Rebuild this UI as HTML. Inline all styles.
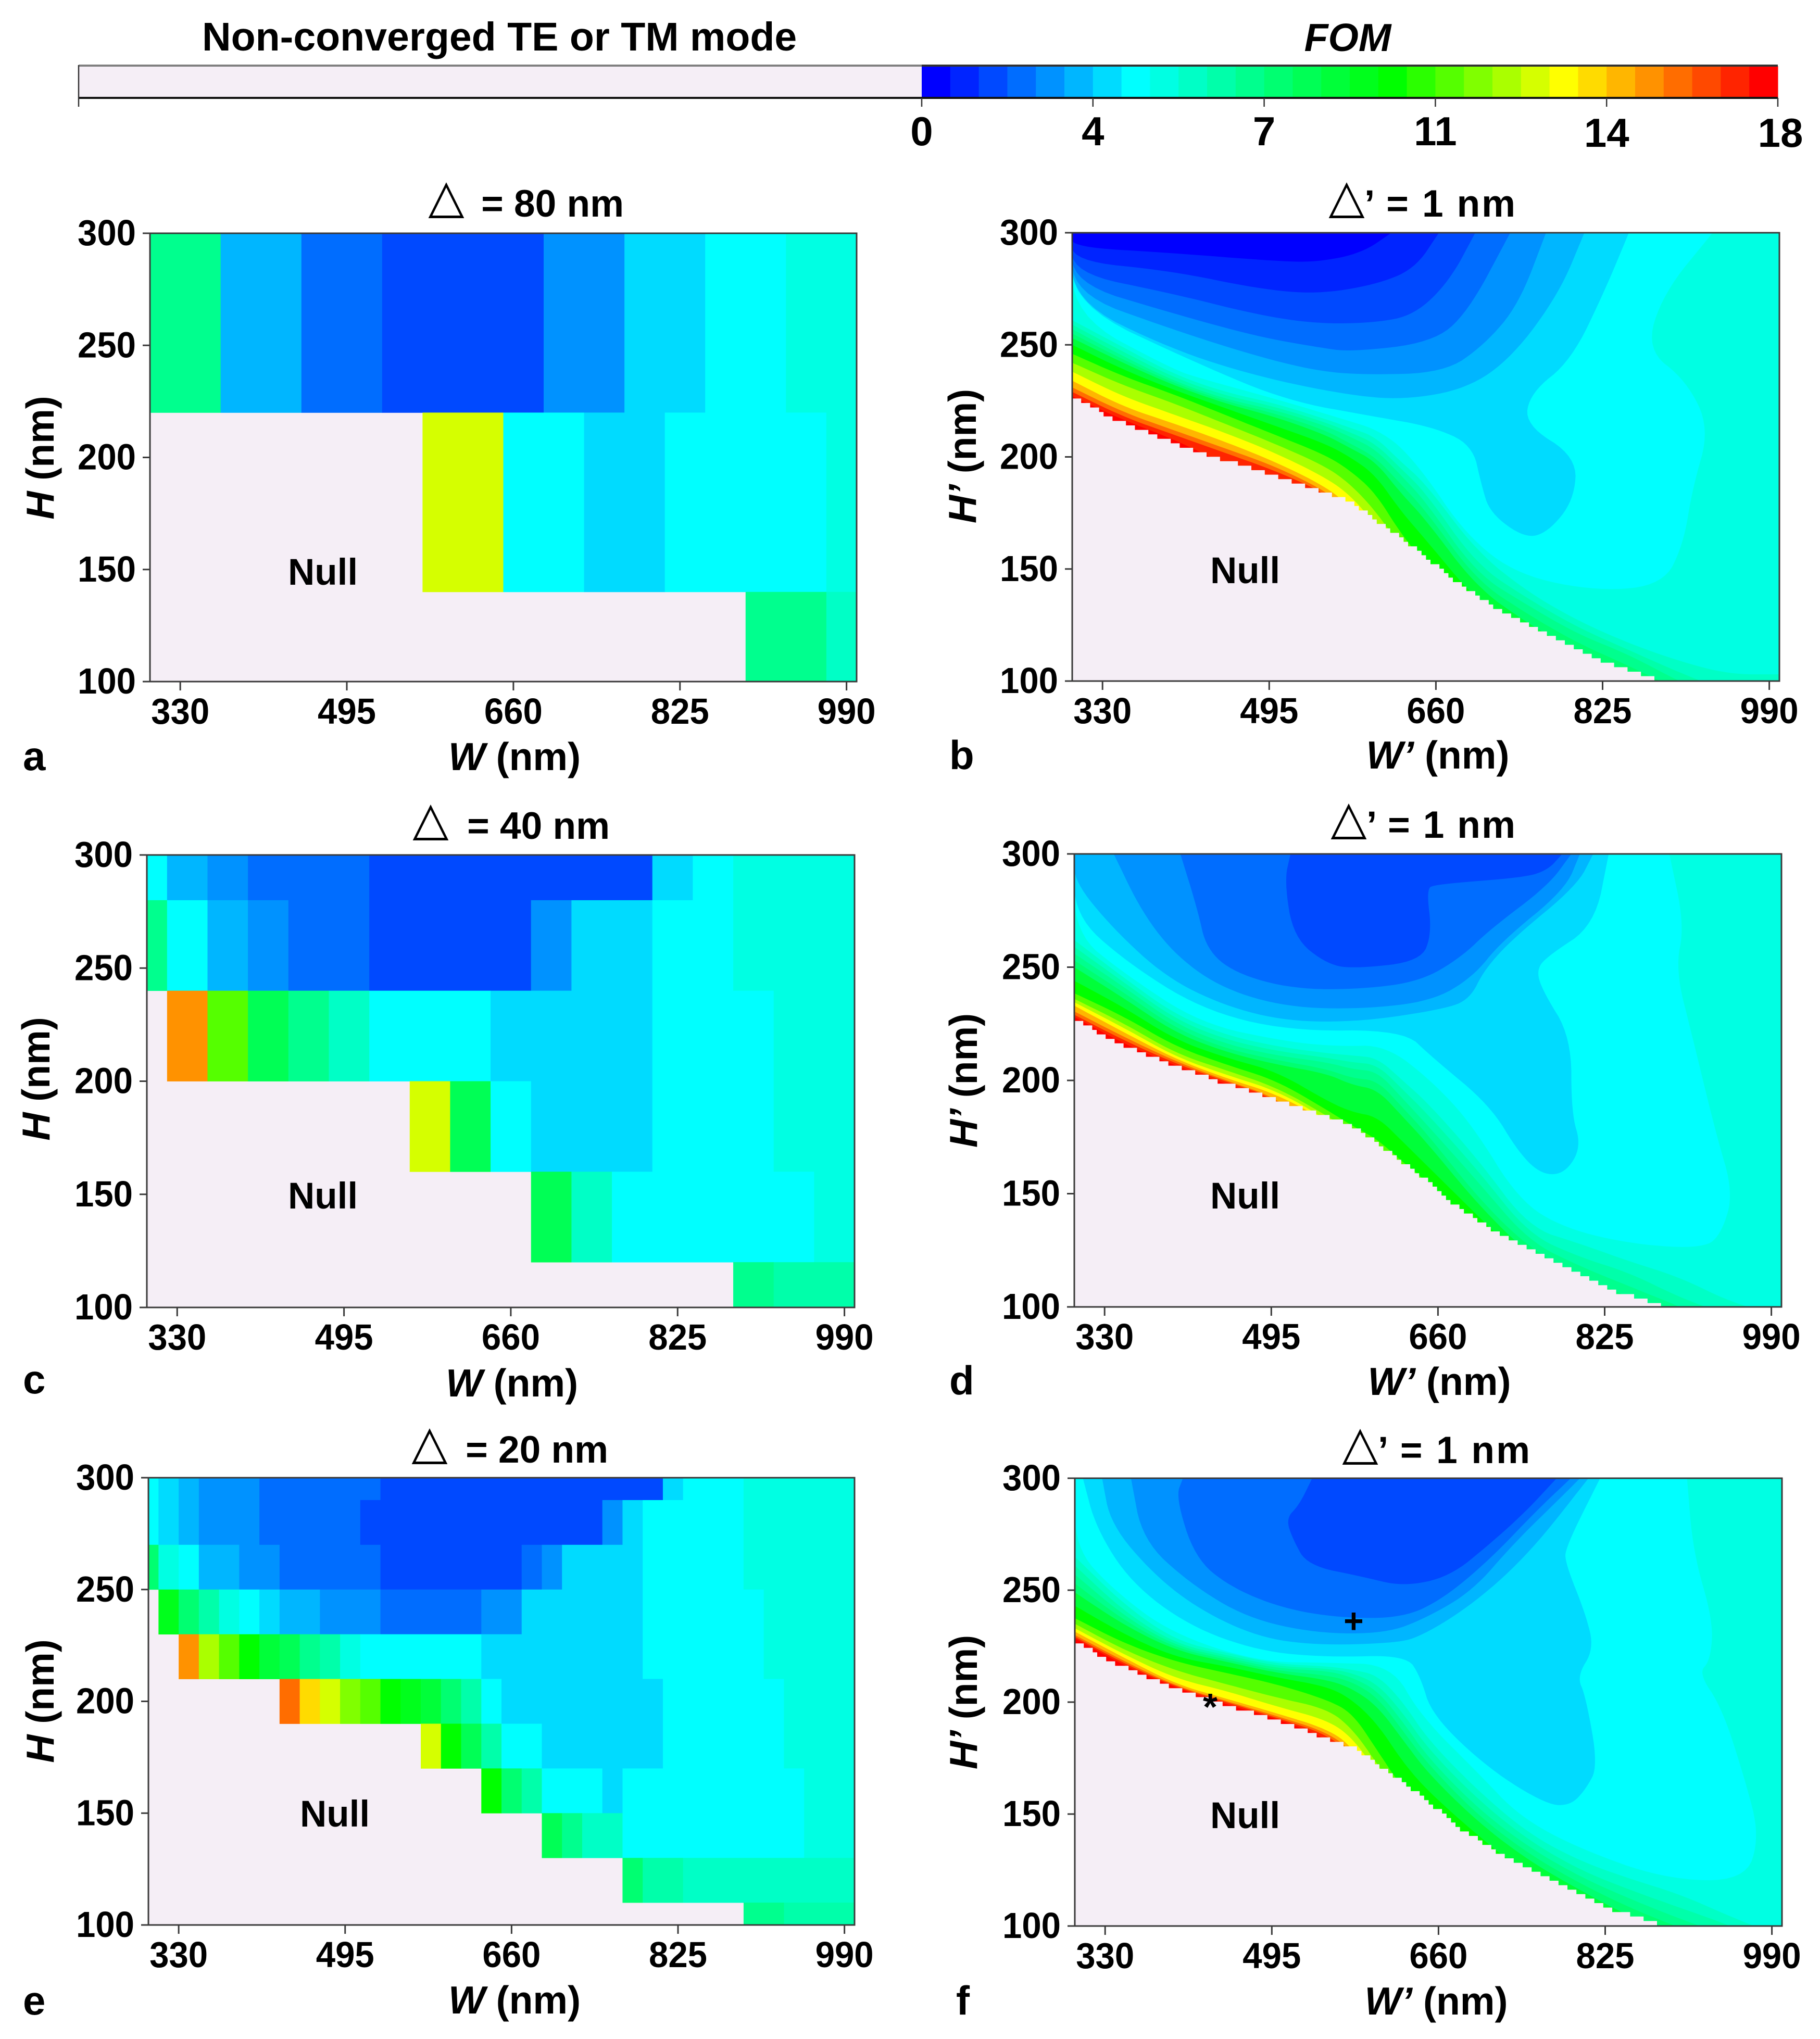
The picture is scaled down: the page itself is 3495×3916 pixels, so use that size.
<!DOCTYPE html>
<html lang="en">
<head>
<meta charset="utf-8">
<title>FOM maps for W/H parameter sweeps</title>
<style>
html,body{margin:0;padding:0;background:#fff;}
svg{display:block;}
text{font-family:"Liberation Sans",sans-serif;font-weight:700;fill:#000;}
.tri{font-family:"DejaVu Sans",sans-serif;font-weight:400;font-size:90px;text-anchor:middle;}
.ttl{font-size:73px;text-anchor:end;}
.ax{font-size:75px;text-anchor:middle;}
.let{font-size:78px;}
.nul{font-size:71px;}
.cbt{font-size:78px;text-anchor:middle;}
</style>
</head>
<body>
<svg id="figure" xmlns="http://www.w3.org/2000/svg" width="3495" height="3916" viewBox="0 0 3495 3916">
<rect x="0" y="0" width="3495" height="3916" fill="#ffffff"/>
<g id="legend">
  <text x="388" y="97" font-size="77">Non-converged TE or TM mode</text>
  <text x="2588" y="98" font-size="75" font-style="italic" text-anchor="middle">FOM</text>
</g>

<g>
  <g id="panel-a-plot"></g>
  <g id="panel-a-axes"></g>
  <text class="tri" x="857" y="408">△</text>
  <text class="ttl" x="1198" y="416">= 80 nm</text>
  <text class="nul" x="553" y="1123">Null</text>
  <text class="ax" x="988" y="1479"><tspan font-style="italic">W</tspan> (nm)</text>
  <text class="ax" transform="translate(103 879) rotate(-90)"><tspan font-style="italic">H</tspan> (nm)</text>
  <text class="let" x="44" y="1479">a</text>
</g>

<g>
  <g id="panel-b-plot"></g>
  <g id="panel-b-axes"></g>
  <text class="tri" x="2586" y="408">△</text>
  <text class="ttl" x="2910" y="416" textLength="290" lengthAdjust="spacing">’ = 1 nm</text>
  <text class="nul" x="2324" y="1120">Null</text>
  <text class="ax" x="2761" y="1476"><tspan font-style="italic">W’</tspan> (nm)</text>
  <text class="ax" transform="translate(1874 876) rotate(-90)"><tspan font-style="italic">H’</tspan> (nm)</text>
  <text class="let" x="1823" y="1477">b</text>
</g>

<g>
  <g id="panel-c-plot"></g>
  <g id="panel-c-axes"></g>
  <text class="tri" x="827" y="1603">△</text>
  <text class="ttl" x="1171" y="1611">= 40 nm</text>
  <text class="nul" x="553" y="2321">Null</text>
  <text class="ax" x="983" y="2682"><tspan font-style="italic">W</tspan> (nm)</text>
  <text class="ax" transform="translate(95 2072) rotate(-90)"><tspan font-style="italic">H</tspan> (nm)</text>
  <text class="let" x="44" y="2676">c</text>
</g>

<g>
  <g id="panel-d-plot"></g>
  <g id="panel-d-axes"></g>
  <text class="tri" x="2590" y="1601">△</text>
  <text class="ttl" x="2910" y="1609" textLength="286" lengthAdjust="spacing">’ = 1 nm</text>
  <text class="nul" x="2324" y="2321">Null</text>
  <text class="ax" x="2764" y="2679"><tspan font-style="italic">W’</tspan> (nm)</text>
  <text class="ax" transform="translate(1876 2075) rotate(-90)"><tspan font-style="italic">H’</tspan> (nm)</text>
  <text class="let" x="1823" y="2678">d</text>
</g>

<g>
  <g id="panel-e-plot"></g>
  <g id="panel-e-axes"></g>
  <text class="tri" x="825" y="2801">△</text>
  <text class="ttl" x="1168" y="2809">= 20 nm</text>
  <text class="nul" x="576" y="3508">Null</text>
  <text class="ax" x="988" y="3867"><tspan font-style="italic">W</tspan> (nm)</text>
  <text class="ax" transform="translate(103 3267) rotate(-90)"><tspan font-style="italic">H</tspan> (nm)</text>
  <text class="let" x="44" y="3869">e</text>
</g>

<g>
  <g id="panel-f-plot"></g>
  <g id="panel-f-axes"></g>
  <text class="tri" x="2612" y="2802">△</text>
  <text class="ttl" x="2938" y="2810" textLength="292" lengthAdjust="spacing">’ = 1 nm</text>
  <text class="nul" x="2324" y="3511">Null</text>
  <text class="ax" x="2758" y="3869"><tspan font-style="italic">W’</tspan> (nm)</text>
  <text class="ax" transform="translate(1876 3269) rotate(-90)"><tspan font-style="italic">H’</tspan> (nm)</text>
  <text class="let" x="1836" y="3869">f</text>
</g>
</svg>

<script>
// ---------- shared scale values ----------
const fomMax = 18;
const levelCount = 30;
const anchorLevels = [0, 7, 16, 22, 29];
const anchorRed = [0, 0, 0, 255, 255];
const anchorGreen = [0, 255, 255, 255, 0];
const anchorBlue = [255, 255, 0, 0, 0];
const nullColor = '#f5eef6';

const colorbarTickValues = [0, 3.6, 7.2, 10.8, 14.4, 18];
const colorbarTickLabels = ['0', '4', '7', '11', '14', '18'];
const xTickValues = [330, 495, 660, 825, 990];
const yTickValues = [100, 150, 200, 250, 300];

// ---------- panel a: Delta = 80 nm ----------
const panelAHEdges = [300, 220, 140, 100];
const panelAWEdges = [
  [300, 370, 450, 530, 690, 770, 850, 930, 1000],
  [300, 570, 650, 730, 810, 970, 1000],
  [300, 890, 970, 1000]
];
const panelAFom = [
  [6.9, 3.3, 2.1, 1.5, 2.7, 3.9, 4.5, 5.1],
  [null, 12.9, 4.5, 3.9, 4.5, 5.1],
  [null, 6.9, 5.7]
];

// ---------- panel c: Delta = 40 nm ----------
const panelCHEdges = [300, 280, 240, 200, 160, 120, 100];
const panelCWEdges = [
  [300, 320, 360, 400, 520, 800, 840, 880, 1000],
  [300, 320, 360, 400, 440, 520, 680, 720, 800, 880, 1000],
  [300, 320, 360, 400, 440, 480, 520, 640, 800, 920, 1000],
  [300, 560, 600, 640, 680, 800, 920, 1000],
  [300, 680, 720, 760, 960, 1000],
  [300, 880, 920, 1000]
];
const panelCFom = [
  [4.5, 3.3, 2.7, 2.1, 1.5, 3.9, 4.5, 5.1],
  [6.9, 4.5, 3.3, 2.7, 2.1, 1.5, 2.7, 3.9, 4.5, 5.1],
  [null, 15.3, 11.1, 8.1, 6.9, 5.7, 4.5, 3.9, 4.5, 5.1],
  [null, 12.9, 8.1, 4.5, 3.9, 4.5, 5.1],
  [null, 8.1, 5.7, 4.5, 5.1],
  [null, 6.9, 6.3]
];

// ---------- panel e: Delta = 20 nm ----------
const panelEHEdges = [300, 290, 270, 250, 230, 210, 190, 170, 150, 130, 110, 100];
const panelEWEdges = [
  [300, 310, 330, 350, 410, 530, 810, 830, 890, 1000],
  [300, 310, 330, 350, 410, 510, 750, 770, 790, 890, 1000],
  [300, 310, 330, 350, 390, 430, 530, 670, 690, 710, 790, 890, 1000],
  [300, 310, 330, 350, 370, 390, 410, 430, 470, 530, 630, 650, 670, 790, 910, 1000],
  [300, 330, 350, 370, 390, 410, 430, 450, 470, 490, 510, 630, 790, 910, 1000],
  [300, 430, 450, 470, 490, 510, 530, 550, 570, 590, 610, 630, 650, 810, 930, 1000],
  [300, 570, 590, 610, 630, 650, 690, 810, 930, 1000],
  [300, 630, 650, 670, 690, 750, 770, 950, 1000],
  [300, 690, 710, 730, 770, 950, 1000],
  [300, 770, 790, 830, 1000],
  [300, 890, 930, 1000]
];
const panelEFom = [
  [4.5, 3.9, 3.3, 2.7, 2.1, 1.5, 3.9, 4.5, 5.1],
  [4.5, 3.9, 3.3, 2.7, 2.1, 1.5, 2.7, 3.9, 4.5, 5.1],
  [7.5, 5.1, 4.5, 3.3, 2.7, 2.1, 1.5, 2.1, 2.7, 3.9, 4.5, 5.1],
  [null, 9.3, 7.5, 6.3, 5.1, 4.5, 3.9, 3.3, 2.7, 2.1, 2.7, 2.7, 3.9, 4.5, 5.1],
  [null, 15.3, 12.3, 11.1, 9.9, 8.7, 8.1, 6.9, 6.3, 5.1, 4.5, 3.9, 4.5, 5.1],
  [null, 15.9, 14.1, 12.9, 11.7, 11.1, 9.9, 9.3, 8.7, 7.5, 6.3, 4.5, 3.9, 4.5, 5.1],
  [null, 12.9, 9.9, 8.1, 6.3, 4.5, 3.9, 4.5, 5.1],
  [null, 9.9, 7.5, 6.3, 4.5, 3.9, 4.5, 5.1],
  [null, 8.1, 6.9, 5.7, 4.5, 5.1],
  [null, 7.5, 6.3, 5.7],
  [null, 6.9, 6.3]
];

// ---------- contour panels: shared ----------
const contourStationsW = [300, 350, 400, 450, 500, 550, 575, 600, 625, 650, 700, 750, 800, 850, 900, 950, 1000];
const hotLevels = [28, 26, 24, 22, 20, 18, 16, 14, 12, 11, 10, 9, 8];
const coolLevelsB = [7, 6, 5, 4, 3, 2, 1, 0];
const coolLevelsDF = [7, 6, 5, 4, 3, 2];
const nullBoundaryW = [300, 330, 350, 385, 400, 442, 494, 540, 574, 620, 650, 672, 712, 770, 826, 884];
const nullBoundaryH = [227, 219, 215, 208.5, 206, 199.5, 192.5, 185, 180, 165, 155, 146, 134, 120.5, 108, 100];

// ---------- panel b: H of each FOM-level contour at contourStationsW ----------
const panelBHot = [
  [227, 216.5, 208, 197, 190, 180, 170, 150, 130, 100, 90, 90, 90, 90, 90, 90, 90],
  [229, 218, 210, 202, 194, 184, 174, 155, 135, 110, 90, 90, 90, 90, 90, 90, 90],
  [231, 220, 212, 204, 196, 185, 176, 160, 140, 120, 90, 90, 90, 90, 90, 90, 90],
  [234, 222.5, 215, 207, 198, 187, 178, 165, 145, 125, 90, 90, 90, 90, 90, 90, 90],
  [238, 227, 219, 211, 202, 191, 183, 170, 150, 130, 100, 90, 90, 90, 90, 90, 90],
  [242, 232, 224, 215, 206, 196, 188, 176, 160, 140, 110, 90, 90, 90, 90, 90, 90],
  [246, 236, 228, 219, 210, 201, 194, 184, 166, 152, 125, 105, 90, 90, 90, 90, 90],
  [250, 239, 230, 222, 214, 206, 200, 192, 176, 163, 136, 120, 105, 90, 90, 90, 90],
  [253, 242, 232, 224, 218, 210, 204, 198, 184, 172, 142, 126, 113, 103, 90, 90, 90],
  [255, 243.5, 233, 225, 219.5, 212, 206, 200, 188, 176, 145, 130, 117, 107, 96, 90, 90],
  [257, 245, 234, 226, 221, 214, 209, 203.5, 192, 180, 148, 134, 121, 112, 100, 90, 90],
  [259, 247, 235.5, 227.5, 222.5, 215.5, 211, 206, 195, 184, 152, 137, 124, 114, 104, 95, 95],
  [261, 249, 237, 229, 224, 217, 213, 209, 198, 188, 158, 140, 127, 117, 109, 103, 103]
];
const panelBLevel7 = [[300,300],[300,263],[400,239],[427,235],[500,226],[560,218],[610,211],[645,195],[690,165],[742,147],[822,140],[885,143],[905,161],[914,186],[931,212.6],[908,234],[868,248],[885,273],[934,300]];
const panelBLevel6 = [[300,300],[300,267.8],[427,241],[513,225],[599,218],[656,213.5],[696,205.5],[705,187.7],[713.5,175],[748,163.7],[771,166.4],[796.6,180.6],[799.5,200],[748,214.4],[753.6,228.6],[794,243],[828,275],[851,300]];
const panelBLevel5 = [[300,300],[300,269.6],[398,248],[484,235.8],[570,227.8],[628,225.4],[691,230.4],[736,244.7],[782,273],[807,300]];
const panelBLevel4 = [[300,300],[300,273],[398,257],[484,244.7],[542,238.4],[587.5,236.6],[668,237.5],[708,250],[742,268],[769,300]];
const panelBLevel3 = [[300,300],[300,277.6],[398,264.2],[484,253.6],[542,249],[576,246.8],[656,251],[691,264],[733.6,300]];
const panelBLevel2 = [[300,300],[300,282],[398,273],[484,263.3],[542,259.4],[599,259.8],[639,263.3],[673.5,278.5],[699,300]];
const panelBLevel1 = [[300,300],[300,287.4],[398,283],[484,275],[542,272.6],[599,276.7],[639,283.8],[663,300]];
const panelBLevel0 = [[300,300],[300,293.6],[398,291],[496,287.5],[542,286.8],[587,291],[616,300]];

// ---------- panel d ----------
const panelDHot = [
  [228, 216, 206.5, 198.5, 191, 165, 150, 130, 110, 90, 90, 90, 90, 90, 90, 90, 90],
  [229, 217.5, 207.5, 199.5, 192, 170, 155, 140, 120, 100, 90, 90, 90, 90, 90, 90, 90],
  [230.5, 219, 208.5, 200, 192.5, 175, 160, 145, 125, 110, 90, 90, 90, 90, 90, 90, 90],
  [233, 221, 209.5, 201, 194, 182, 165, 150, 130, 120, 90, 90, 90, 90, 90, 90, 90],
  [234.5, 223, 210.5, 202.5, 195.5, 183, 170, 155, 140, 130, 100, 90, 90, 90, 90, 90, 90],
  [236, 225, 212, 204.5, 197, 184.5, 177, 165, 150, 140, 110, 90, 90, 90, 90, 90, 90],
  [238.5, 228, 215, 207, 200, 187, 180, 174, 164, 155, 130, 110, 90, 90, 90, 90, 90],
  [244, 232, 218, 210, 204, 191, 186, 184, 173, 162, 140, 118, 105, 90, 90, 90, 90],
  [250, 236, 221, 212.5, 207, 203, 198, 196, 184, 172, 145, 123, 110, 100, 90, 90, 90],
  [253, 238.5, 223, 214, 209, 205, 201, 200, 188, 176, 148, 126, 114, 104, 95, 90, 90],
  [256, 241, 225, 216, 211, 208, 205, 204, 192, 180, 155, 129, 118, 109, 100, 90, 90],
  [259, 243, 227, 218, 213, 210, 208, 207, 196, 185, 160, 132, 122, 115, 104, 96, 90],
  [262, 245, 229, 220, 215, 212, 211, 210, 200, 190, 165, 135, 128, 120, 113, 102, 96]
];
const panelDLevel7 = [[300,300],[300,265],[350,247],[425,225],[511,217],[562,215],[608,215.6],[654,199.7],[694,180.4],[740,147],[786,134.5],[855,127.5],[924,125.8],[941,132.8],[952.4,150.4],[935,176.8],[912,219],[895,249],[904,268.5],[889,300]];
const panelDLevel6 = [[300,300],[300,272.9],[350.5,252.6],[425,231.5],[511,221.8],[625.6,222.3],[654,210.3],[711.6,189],[740,168],[763,158.3],[786,159],[802,170.7],[792,185.6],[792,219],[763,240],[757.5,249],[769,255],[815,268.5],[829,300]];
const panelDLevel5 = [[300,300],[300,287.8],[339,266.7],[390.6,245.6],[448,233],[511,226],[585.5,226],[666,231.5],[691.6,235.9],[706,249],[735,263],[797.6,286],[813.7,300]];
const panelDLevel4 = [[339,300],[367.6,273.7],[402,254.4],[448,240.3],[511,232.3],[585.5,231.5],[654,235],[694.4,245.6],[723,261.4],[786,284.3],[800.5,300]];
const panelDLevel3 = [[405,300],[422,275.5],[430.7,258],[459,247.3],[517,240.3],[585.5,240.3],[643,243.8],[683,254.4],[711.6,266.7],[769,286],[792,300]];
const panelDLevel2 = [[514,300],[508,288],[517,263],[551,251],[580,249.4],[643,252.6],[654,265],[648.6,284.3],[657,286.6],[746,289.6],[769,293],[783,300]];

// ---------- panel f ----------
const panelFHot = [
  [228.5, 216, 206.3, 199, 192.5, 184, 172, 145, 125, 100, 90, 90, 90, 90, 90, 90, 90],
  [229.2, 217, 206.8, 200, 193, 185.5, 176, 150, 130, 110, 90, 90, 90, 90, 90, 90, 90],
  [230, 218, 207.2, 200.5, 193.8, 186.5, 178, 155, 135, 115, 90, 90, 90, 90, 90, 90, 90],
  [231.5, 219.5, 208, 201.5, 195, 188, 180, 160, 140, 125, 100, 90, 90, 90, 90, 90, 90],
  [233, 221, 210.5, 205, 198, 192, 184, 168, 150, 135, 110, 90, 90, 90, 90, 90, 90],
  [235, 223, 214, 208, 202, 197, 188, 172, 155, 145, 120, 90, 90, 90, 90, 90, 90],
  [237.5, 226, 218, 213, 208, 201, 195, 178, 161, 151, 132, 110, 90, 90, 90, 90, 90],
  [243, 230, 220, 216, 211, 207, 201, 190, 173, 160, 140, 122, 108, 90, 90, 90, 90],
  [249, 234, 223, 218, 213, 210, 206, 198, 183, 168, 146, 129, 116, 104, 95, 90, 90],
  [253, 236, 224, 219, 214, 212, 209, 202, 187, 172, 149, 132, 119, 108, 99, 90, 90],
  [257, 238, 225, 220, 215, 214, 211, 205, 191, 175, 152, 135, 122, 112, 103, 95, 90],
  [261, 240, 226, 221, 216, 215, 213, 208, 195, 179, 156, 138, 125, 116, 108, 100, 90],
  [265, 243, 227.5, 222, 217, 216, 214.5, 212, 200, 183, 160, 141, 129, 121, 114, 104, 95]
];
const panelFLevel7 = [[300,300],[300,269],[338.4,250],[395.7,230.7],[481.7,218],[550.5,217.6],[613.6,216.7],[642,194],[700,168],[740,149],[797,135],[883,121],[963.3,120],[978,140],[963,166],[940.4,197.6],[917.4,213],[929,218.5],[932,236],[912,267],[906,300]];
const panelFLevel6 = [[308,300],[321,277.7],[355.6,253.3],[413,234],[481.7,222.8],[550.5,220],[628,221],[642,211.5],[653.7,194],[711,169.7],[768,154],[791,154],[805.6,161],[818,171.4],[805.6,202.8],[797,211.5],[814,223.7],[805.6,239.4],[785.6,262],[785.6,269],[820,300]];
const panelFLevel5 = [[327,300],[335.5,279.4],[378.5,256.8],[424.4,241],[481.7,229],[539,225.4],[613.6,226.3],[642,229],[696.7,244.6],[751,267],[808.5,300]];
const panelFLevel4 = [[355.6,300],[367,272.5],[413,253.3],[470,237.6],[539,230.7],[608,230.7],[648,237.6],[694,249.8],[734,270.7],[785.6,293.4],[800,300]];
const panelFLevel3 = [[407,300],[400,291.6],[418.7,264.6],[453,251.6],[504.7,242],[562,237.6],[625,237.6],[665,246.3],[711,263.8],[757,285.5],[791,300]];
const panelFLevel2 = [[535,300],[522,288],[509,282],[516,272.5],[530.5,261],[585,256],[625,251.6],[671,256],[711,270.7],[745.5,284.7],[777,300]];
const plusMarkerW = [576];
const plusMarkerH = [236.4];
const starMarkerW = [434];
const starMarkerH = [201.4];

// ---------- helpers ----------
const NS = 'http://www.w3.org/2000/svg';
function make(tag, parent, attrs, text) {
  const el = document.createElementNS(NS, tag);
  for (const k in attrs) el.setAttribute(k, attrs[k]);
  if (text !== undefined) el.textContent = text;
  parent.appendChild(el);
  return el;
}
function levelColor(level) {
  let i = 0;
  while (i < anchorLevels.length - 2 && level > anchorLevels[i + 1]) i++;
  const t = (level - anchorLevels[i]) / (anchorLevels[i + 1] - anchorLevels[i]);
  const mix = (arr) => Math.round(arr[i] + (arr[i + 1] - arr[i]) * t);
  return 'rgb(' + mix(anchorRed) + ',' + mix(anchorGreen) + ',' + mix(anchorBlue) + ')';
}
function fomColor(v) {
  const level = Math.min(levelCount - 1, Math.max(0, Math.floor(v / fomMax * levelCount + 1e-9)));
  return levelColor(level);
}
function scales(frame) {
  return {
    x: (w) => frame.left + (w - 300) / 700 * (frame.right - frame.left),
    y: (h) => frame.bottom - (h - 100) / 200 * (frame.bottom - frame.top)
  };
}
// Corner-cutting so a contour traced through read points renders as a smooth curve.
function smoothLine(points) {
  let pts = points;
  for (let pass = 0; pass < 3; pass++) {
    const out = [pts[0]];
    for (let i = 0; i < pts.length - 1; i++) {
      const a = pts[i], b = pts[i + 1];
      out.push([0.75 * a[0] + 0.25 * b[0], 0.75 * a[1] + 0.25 * b[1]]);
      out.push([0.25 * a[0] + 0.75 * b[0], 0.25 * a[1] + 0.75 * b[1]]);
    }
    out.push(pts[pts.length - 1]);
    pts = out;
  }
  return pts;
}
function toPointString(pts) {
  return pts.map((p) => p[0].toFixed(1) + ',' + p[1].toFixed(1)).join(' ');
}
function boundaryAt(w) {
  let i = 0;
  while (i < nullBoundaryW.length - 2 && w > nullBoundaryW[i + 1]) i++;
  const t = (w - nullBoundaryW[i]) / (nullBoundaryW[i + 1] - nullBoundaryW[i]);
  return nullBoundaryH[i] + (nullBoundaryH[i + 1] - nullBoundaryH[i]) * t;
}
function startPlot(id, frame) {
  const g = document.getElementById(id + '-plot');
  const defs = make('defs', g, {});
  const clip = make('clipPath', defs, { id: id + '-clip' });
  make('rect', clip, { x: frame.left, y: frame.top, width: frame.right - frame.left, height: frame.bottom - frame.top });
  const marks = make('g', g, { 'clip-path': 'url(#' + id + '-clip)' });
  
  
  const bg = make('rect', marks, { x: frame.left, y: frame.top, width: frame.right - frame.left, height: frame.bottom - frame.top, fill: nullColor });
  
  
  return marks;
}
function drawAxes(id, frame) {
  const s = scales(frame);
  const g = document.getElementById(id + '-axes');
  const border = make('rect', g, { x: frame.left, y: frame.top, width: frame.right - frame.left, height: frame.bottom - frame.top, fill: 'none', stroke: '#3a3a3a', 'stroke-width': 3 });
  
  
  xTickValues.forEach((v) => {
    const tick = make('line', g, { x1: s.x(v), x2: s.x(v), y1: frame.bottom, y2: frame.bottom + 17, stroke: '#3a3a3a', 'stroke-width': 3 });
    
    
    const label = make('text', g, { x: s.x(v), y: frame.bottom + 81, 'font-size': 70, 'text-anchor': 'middle', textLength: 112, lengthAdjust: 'spacingAndGlyphs' }, String(v));
    
    
  });
  yTickValues.forEach((v) => {
    const tick = make('line', g, { x1: frame.left - 14, x2: frame.left, y1: s.y(v), y2: s.y(v), stroke: '#3a3a3a', 'stroke-width': 3 });
    
    
    const label = make('text', g, { x: frame.left - 27, y: s.y(v) + 23, 'font-size': 70, 'text-anchor': 'end', textLength: 112, lengthAdjust: 'spacingAndGlyphs' }, String(v));
    
    
  });
}
function drawHeatmap(id, frame, hEdges, wEdges, fom) {
  const s = scales(frame);
  const marks = startPlot(id, frame);
  fom.forEach((row, r) => {
    row.forEach((v, c) => {
      if (v === null) return;
      const x0 = s.x(wEdges[r][c]);
      const x1 = s.x(wEdges[r][c + 1]);
      const y0 = s.y(hEdges[r]);
      const y1 = s.y(hEdges[r + 1]);
      const cell = make('rect', marks, { x: x0, y: y0, width: x1 - x0 + 0.4, height: y1 - y0 + 0.4, fill: fomColor(v) });
      
      
    });
  });
  drawAxes(id, frame);
}
function drawContour(id, frame, hot, coolLevels, cool) {
  const s = scales(frame);
  const marks = startPlot(id, frame);
  const base = make('rect', marks, { x: frame.left, y: frame.top, width: frame.right - frame.left, height: frame.bottom - frame.top, fill: levelColor(29) });
  
  
  hot.forEach((heights, i) => {
    const line = smoothLine(heights.map((h, j) => [s.x(contourStationsW[j]), s.y(h)]));
    line.push([s.x(1000), s.y(300)]);
    line.push([s.x(300), s.y(300)]);
    const band = make('polygon', marks, { points: toPointString(line), fill: levelColor(hotLevels[i]) });
    
    
  });
  cool.forEach((trace, i) => {
    const line = smoothLine(trace.map((p) => [s.x(p[0]), s.y(p[1])]));
    const band = make('polygon', marks, { points: toPointString(line), fill: levelColor(coolLevels[i]) });
    
    
  });
  // Null region: follows the boundary with the staircase of the simulation grid.
  const step = 8.6;
  const lastW = nullBoundaryW[nullBoundaryW.length - 1];
  const stairs = [];
  for (let px = s.x(300); px < s.x(lastW) + step; px += step) {
    const w = 300 + (px - frame.left) / (frame.right - frame.left) * 700;
    const py = Math.round(s.y(boundaryAt(Math.min(w, lastW))) / step) * step;
    stairs.push([px, py]);
    stairs.push([px + step, py]);
  }
  stairs.push([s.x(lastW) + step, frame.bottom + 5]);
  stairs.push([frame.left, frame.bottom + 5]);
  const mask = make('polygon', marks, { points: toPointString(stairs), fill: nullColor });
  
  
  drawAxes(id, frame);
}

// ---------- layout ----------
const frameA = { left: 288, right: 1645, top: 448, bottom: 1309 };
const frameB = { left: 2059, right: 3417, top: 447, bottom: 1308 };
const frameC = { left: 282, right: 1641, top: 1642, bottom: 2511 };
const frameD = { left: 2063, right: 3421, top: 1640, bottom: 2510 };
const frameE = { left: 285, right: 1641, top: 2838, bottom: 3697 };
const frameF = { left: 2064, right: 3422, top: 2839, bottom: 3699 };

drawHeatmap('panel-a', frameA, panelAHEdges, panelAWEdges, panelAFom);
drawContour('panel-b', frameB, panelBHot, coolLevelsB, [panelBLevel7, panelBLevel6, panelBLevel5, panelBLevel4, panelBLevel3, panelBLevel2, panelBLevel1, panelBLevel0]);
drawHeatmap('panel-c', frameC, panelCHEdges, panelCWEdges, panelCFom);
drawContour('panel-d', frameD, panelDHot, coolLevelsDF, [panelDLevel7, panelDLevel6, panelDLevel5, panelDLevel4, panelDLevel3, panelDLevel2]);
drawHeatmap('panel-e', frameE, panelEHEdges, panelEWEdges, panelEFom);
drawContour('panel-f', frameF, panelFHot, coolLevelsDF, [panelFLevel7, panelFLevel6, panelFLevel5, panelFLevel4, panelFLevel3, panelFLevel2]);

// markers in panel f
const fAxes = document.getElementById('panel-f-axes');
const fScale = scales(frameF);
plusMarkerW.forEach((w, i) => {
  const mark = make('text', fAxes, { x: fScale.x(w), y: fScale.y(plusMarkerH[i]) + 23, 'font-size': 66, 'text-anchor': 'middle' }, '+');
  
  
});
starMarkerW.forEach((w, i) => {
  const mark = make('text', fAxes, { x: fScale.x(w), y: fScale.y(starMarkerH[i]) + 40, 'font-size': 72, 'text-anchor': 'middle' }, '*');
  
  
});

// ---------- colorbar ----------
const barLeft = 151, barSplit = 1770, barRight = 3414, barTop = 127, barBottom = 188;
const legend = document.getElementById('legend');
const barX = (v) => barSplit + v / fomMax * (barRight - barSplit);
const nullSwatch = make('rect', legend, { x: barLeft, y: barTop, width: barSplit - barLeft, height: barBottom - barTop, fill: nullColor });


for (let level = 0; level < levelCount; level++) {
  const seg = make('rect', legend, { x: barX(level * fomMax / levelCount), y: barTop, width: (barRight - barSplit) / levelCount + 0.5, height: barBottom - barTop, fill: levelColor(level) });
  
  
}
const topLeftEdge = make('line', legend, { x1: barLeft, x2: barSplit, y1: 126, y2: 126, stroke: '#808080', 'stroke-width': 4 });


const topRightEdge = make('line', legend, { x1: barSplit, x2: barRight, y1: 126, y2: 126, stroke: '#333333', 'stroke-width': 4 });


const bottomEdge = make('line', legend, { x1: barLeft, x2: barRight, y1: 188, y2: 188, stroke: '#111111', 'stroke-width': 4 });


const leftEdge = make('line', legend, { x1: barLeft, x2: barLeft, y1: 125, y2: 205, stroke: '#333333', 'stroke-width': 2.5 });


colorbarTickValues.forEach((v, i) => {
  const tick = make('line', legend, { x1: barX(v), x2: barX(v), y1: 188, y2: 205, stroke: '#333333', 'stroke-width': 2.5 });
  
  
  const label = make('text', legend, { x: barX(v) + (i === 5 ? 5 : 0), y: i >= 4 ? 282 : 279, class: 'cbt' }, colorbarTickLabels[i]);
  
  
});
</script>
</body>
</html>
